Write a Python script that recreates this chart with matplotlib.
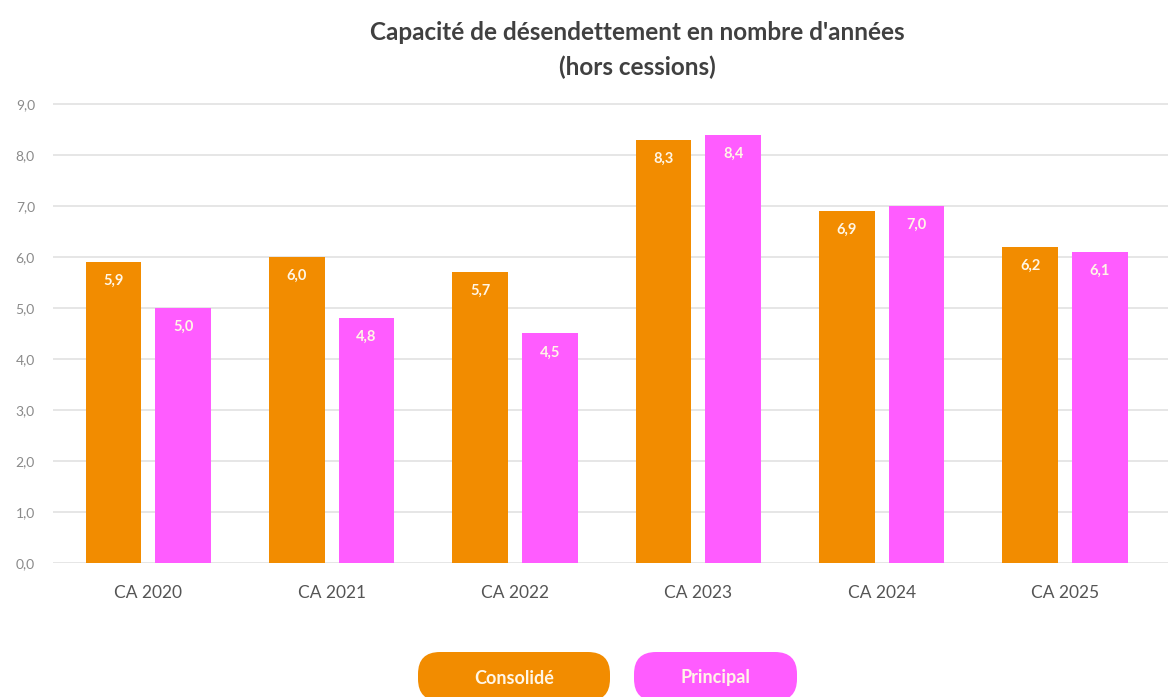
import matplotlib
matplotlib.use('Agg')
import numpy as np
from matplotlib import pyplot as plt
from matplotlib.patches import FancyBboxPatch
from matplotlib.ticker import FuncFormatter

categories = ['CA 2020', 'CA 2021', 'CA 2022', 'CA 2023', 'CA 2024', 'CA 2025']
consolide = [5.9, 6.0, 5.7, 8.3, 6.9, 6.2]
principal = [5.0, 4.8, 4.5, 8.4, 7.0, 6.1]
series_names = ['Consolidé', 'Principal']

orange = '#F28C00'
pink = '#FF5CFF'

plt.rcParams['font.family'] = ['Lato', 'DejaVu Sans']

fig = plt.figure(figsize=(11.7, 6.97), dpi=100)
ax = fig.add_axes([0.0453, 0.1923, 0.9527, 0.6601])

x = np.arange(len(categories))
width = 0.305
offset = 0.19

bars1 = ax.bar(x - offset, consolide, width, color=orange, zorder=2)
bars2 = ax.bar(x + offset, principal, width, color=pink, zorder=2)

# value labels inside the top of each bar
for bars, vals in ((bars1, consolide), (bars2, principal)):
    for b, v in zip(bars, vals):
        ax.annotate(f'{v:.1f}'.replace('.', ','),
                    (b.get_x() + b.get_width() / 2, v),
                    xytext=(0, -19), textcoords='offset pixels',
                    ha='center', va='center', color='#FFF6E6',
                    fontsize=10.5, fontweight='bold')

ax.set_xlim(-0.52, 5.56)
ax.set_ylim(0, 9.02)
ax.set_yticks(np.arange(0, 10, 1))
ax.yaxis.set_major_formatter(FuncFormatter(lambda v, p: f'{v:.1f}'.replace('.', ',')))
ax.set_xticks(x)
ax.set_xticklabels(categories)
ax.tick_params(axis='y', length=0, pad=13, labelsize=10, labelcolor='#8A8A8A')
ax.tick_params(axis='x', length=0, pad=16, labelsize=12.5, labelcolor='#555555')
ax.grid(axis='y', color='#E6E6E6', linewidth=1.4, zorder=0)
for s in ax.spines.values():
    s.set_visible(False)

fig.text(0.545, 0.953, "Capacité de désendettement en nombre d'années",
         ha='center', va='center', fontsize=17.5, fontweight='bold', color='#404040')
fig.text(0.545, 0.903, '(hors cessions)',
         ha='center', va='center', fontsize=17.5, fontweight='bold', color='#404040')

# legend pills, drawn in pixel units
leg = fig.add_axes([0, 0, 1, 69.7 / 697])
leg.set_xlim(0, 1170)
leg.set_ylim(0, 69.7)
leg.axis('off')
pills = [(418, 192, orange), (634, 163, pink)]
for name, (x0, w, c) in zip(series_names, pills):
    leg.add_patch(FancyBboxPatch((x0, -4), w, 49,
                                 boxstyle='round,pad=0,rounding_size=22',
                                 facecolor=c, edgecolor='none', clip_on=True))
    leg.text(x0 + w / 2, 19, name, ha='center', va='center',
             color='#FFF6E6', fontsize=13, fontweight='bold')

fig.savefig('out.png', dpi=100, facecolor='white')
